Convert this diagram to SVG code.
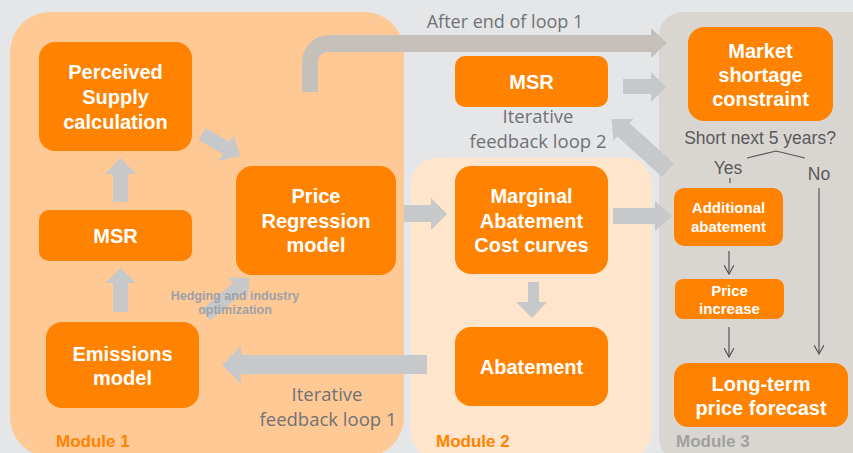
<svg xmlns="http://www.w3.org/2000/svg" width="853" height="453" viewBox="0 0 853 453">
<defs>
<style>
.node{fill:#ff8200;}
.nt{font-family:"Liberation Sans",Arial,sans-serif;font-weight:bold;fill:#ffffff;text-anchor:middle;}
.big{font-size:20px;}
.sm{font-size:15px;}
.blk{fill:#c6c8ca;}
.lbl{font-family:"Open Sans","Liberation Sans",sans-serif;font-size:18.5px;fill:#707275;text-anchor:middle;}
.q{font-family:"Liberation Sans",Arial,sans-serif;font-size:17.5px;fill:#5a5a5a;}
.mod{font-family:"Liberation Sans",Arial,sans-serif;font-size:17px;font-weight:bold;}
.thin{stroke:#555;stroke-width:1.2;fill:none;}
</style>
<marker id="chev" viewBox="0 0 10 10" refX="9" refY="5" markerWidth="10" markerHeight="10" markerUnits="userSpaceOnUse" orient="auto">
<path d="M0,0 L9,5 L0,10" fill="none" stroke="#555" stroke-width="1.2"/>
</marker>
</defs>
<rect x="0" y="0" width="853" height="453" fill="#e5e6e8"/>
<g id="modules">
<rect x="10" y="12" width="394" height="445" rx="40" fill="#ffc996"/>
<rect x="411" y="158" width="241" height="300" rx="26" fill="#ffe5cb"/>
<rect x="659" y="12" width="220" height="450" rx="24" fill="#d9d6d2"/>
<text class="mod" x="56" y="447" fill="#ff8200">Module 1</text>
<text class="mod" x="436" y="447" fill="#ff8200">Module 2</text>
<text class="mod" x="676" y="447" fill="#a0a0a0">Module 3</text>
</g>
<g id="connectors">
<path d="M302,92 V62 A27,27 0 0 1 329,35 H651 V28 L667,43 L651,58 V52 H329 A10,10 0 0 0 318,62 V92 Z" fill="#c5c0ba"/>
<polygon class="blk" points="113,202 113,174 105,174 120.5,158 136,174 128,174 128,202"/>
<polygon class="blk" points="113,312 113,283 105,283 120.5,268 136,283 128,283 128,312"/>
<polygon class="blk" transform="translate(202,134) rotate(30)" points="0,-7 28,-7 28,-15 44,0 28,15 28,7 0,7"/>
<polygon class="blk" transform="translate(206,315) rotate(-40)" points="0,-7 41,-7 41,-15 57,0 41,15 41,7 0,7"/>
<polygon class="blk" points="404,205 431,205 431,198 447,214 431,230 431,222 404,222"/>
<polygon class="blk" points="613,208 655,208 655,201 672,216 655,231 655,224 613,224"/>
<polygon class="blk" points="528,282 539,282 539,302 547,302 532,318 516,302 528,302"/>
<polygon class="blk" points="427,355 241,355 241,346 222,365 241,384 241,374 427,374"/>
<polygon class="blk" points="623,79 651,79 651,72 666,87 651,102 651,94 623,94"/>
<polygon class="blk" transform="translate(668,170) rotate(-138)" points="0,-9 60,-9 60,-15 76,0 60,15 60,9 0,9"/>
<polyline class="thin" points="747,158 776,151 805,158"/>
<line class="thin" x1="730" y1="178" x2="730" y2="183" stroke="#777"/>
<line class="thin" x1="819" y1="188" x2="819" y2="354" marker-end="url(#chev)"/>
<line class="thin" x1="729" y1="251" x2="729" y2="274" marker-end="url(#chev)"/>
<line class="thin" x1="729" y1="327" x2="729" y2="357" marker-end="url(#chev)"/>
</g>
<g id="labels">
<text class="lbl" x="505" y="28" style="font-size:18px">After end of loop 1</text>
<text class="lbl" x="538" y="123">Iterative</text>
<text class="lbl" x="538" y="148">feedback loop 2</text>
<text class="lbl" x="327" y="401">Iterative</text>
<text class="lbl" x="328" y="426">feedback loop 1</text>
<text class="q" x="760" y="144" text-anchor="middle">Short next 5 years?</text>
<text class="q" x="728" y="174" text-anchor="middle">Yes</text>
<text class="q" x="819" y="180" text-anchor="middle">No</text>
<text x="235" y="300" font-family="Liberation Sans,Arial,sans-serif" font-size="12.5" font-weight="bold" fill="#9ea2a6" text-anchor="middle">Hedging and industry</text>
<text x="235" y="314" font-family="Liberation Sans,Arial,sans-serif" font-size="12.5" font-weight="bold" fill="#9ea2a6" text-anchor="middle">optimization</text>
</g>
<g id="perceived">
<rect class="node" x="39" y="42" width="153" height="109" rx="16"/>
<text class="nt big" x="115.5" y="79">Perceived</text>
<text class="nt big" x="115.5" y="104">Supply</text>
<text class="nt big" x="115.5" y="129">calculation</text>
</g>
<g id="msr1">
<rect class="node" x="39" y="210" width="153" height="51" rx="10"/>
<text class="nt big" x="115.5" y="243">MSR</text>
</g>
<g id="emissions">
<rect class="node" x="46" y="322" width="153" height="86" rx="16"/>
<text class="nt big" x="122.5" y="361">Emissions</text>
<text class="nt big" x="122.5" y="385">model</text>
</g>
<g id="price-regression">
<rect class="node" x="236" y="166" width="160" height="109" rx="16"/>
<text class="nt big" x="316" y="203">Price</text>
<text class="nt big" x="316" y="228">Regression</text>
<text class="nt big" x="316" y="252">model</text>
</g>
<g id="msr2">
<rect class="node" x="455" y="56" width="153" height="51" rx="10"/>
<text class="nt big" x="531.5" y="89">MSR</text>
</g>
<g id="market">
<rect class="node" x="688" y="27" width="145" height="94" rx="16"/>
<text class="nt big" x="760.5" y="58">Market</text>
<text class="nt big" x="760.5" y="82">shortage</text>
<text class="nt big" x="760.5" y="106">constraint</text>
</g>
<g id="macc">
<rect class="node" x="455" y="166" width="153" height="108" rx="16"/>
<text class="nt big" x="531.5" y="203">Marginal</text>
<text class="nt big" x="531.5" y="228">Abatement</text>
<text class="nt big" x="531.5" y="252">Cost curves</text>
</g>
<g id="abatement">
<rect class="node" x="455" y="327" width="153" height="79" rx="16"/>
<text class="nt big" x="531.5" y="374">Abatement</text>
</g>
<g id="additional">
<rect class="node" x="674" y="188" width="109" height="58" rx="10"/>
<text class="nt sm" x="728.5" y="213">Additional</text>
<text class="nt sm" x="728.5" y="232">abatement</text>
</g>
<g id="price-increase">
<rect class="node" x="675" y="279" width="109" height="40" rx="8"/>
<text class="nt sm" x="729.5" y="296">Price</text>
<text class="nt sm" x="729.5" y="314">increase</text>
</g>
<g id="forecast">
<rect class="node" x="674" y="363" width="174" height="64" rx="14"/>
<text class="nt big" x="761" y="391">Long-term</text>
<text class="nt big" x="761" y="415">price forecast</text>
</g>
</svg>
